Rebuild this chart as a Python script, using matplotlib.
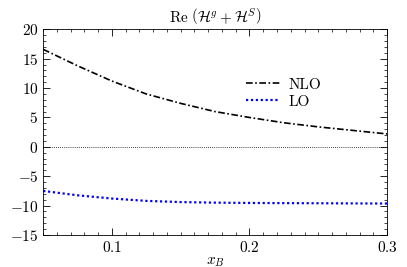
import numpy as np
import matplotlib
matplotlib.use("Agg")
import matplotlib.pyplot as plt
from matplotlib.ticker import MultipleLocator

plt.rcParams['font.family'] = 'serif'
plt.rcParams['font.serif'] = ['cmr10']
plt.rcParams['mathtext.fontset'] = 'cm'
plt.rcParams['axes.formatter.use_mathtext'] = True
plt.rcParams['font.size'] = 11

# values
xB = [0.05, 0.075, 0.1, 0.125, 0.15, 0.175, 0.2, 0.225, 0.25, 0.275, 0.3]
nlo = [16.6, 13.8, 11.2, 9.0, 7.4, 6.0, 5.0, 4.1, 3.4, 2.8, 2.2]
lo = [-7.5, -8.25, -8.8, -9.2, -9.4, -9.5, -9.55, -9.58, -9.6, -9.63, -9.65]

fig = plt.figure(figsize=(4.07, 2.67), dpi=100)
ax = fig.add_axes([0.106, 0.12, 0.845, 0.77])

ax.plot(xB, nlo, color='black', lw=1.2, ls=(0, (4, 1.5, 1, 1.5)), label='NLO')
ax.plot(xB, lo, color='blue', lw=1.6, ls=(0, (1, 1.2)), label='LO')
ax.axhline(0, color='black', lw=0.6, ls=(0, (1, 1.5)))

ax.set_xlim(0.05, 0.3)
ax.set_ylim(-15, 20)
ax.xaxis.set_major_locator(MultipleLocator(0.1))
ax.xaxis.set_minor_locator(MultipleLocator(0.01))
ax.yaxis.set_major_locator(MultipleLocator(5))
ax.yaxis.set_minor_locator(MultipleLocator(1))
ax.tick_params(which='both', direction='in', top=True, right=True)
ax.tick_params(which='major', length=5, width=0.6)
ax.tick_params(which='minor', length=2.5, width=0.5)
for s in ax.spines.values():
    s.set_linewidth(0.6)

ax.set_xlabel(r'$x_B$', labelpad=0)
ax.set_title(r'$\mathrm{Re}\ \left(\mathcal{H}^g+\mathcal{H}^S\right)$', fontsize=11, pad=5)

ax.legend(loc='upper left', bbox_to_anchor=(0.55, 0.83), frameon=False,
          handlelength=2.2, handletextpad=0.6, labelspacing=0.2)

fig.savefig('out.png', dpi=100)
